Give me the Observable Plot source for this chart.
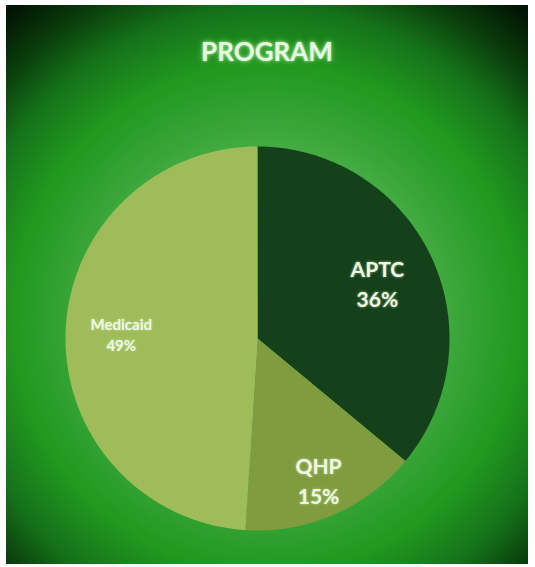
<!DOCTYPE html>
<html>
<head>
<meta charset="utf-8">
<script src="https://cdn.jsdelivr.net/npm/d3@7"></script>
<script src="https://cdn.jsdelivr.net/npm/@observablehq/plot@0.6"></script>
<style>
  html, body { margin: 0; padding: 0; background: #fff; }
  #wrap { position: relative; width: 535px; height: 567px; background: #fff; overflow: hidden; }
  #box {
    position: absolute; left: 6px; top: 5px; width: 522px; height: 559px;
    background: radial-gradient(circle 400px at 50% 56%, #8fcf80 0px, #5cb856 120px, #38a538 195px, #21981f 255px, #15721a 310px, #0a3d0b 355px, #021404 400px);
  }
  #title {
    position: absolute; left: 0; top: 31px; width: 522px; text-align: center;
    font-family: Lato, "Open Sans", sans-serif; font-weight: bold; font-size: 26px; line-height: 30px;
    color: #e6f7e2; text-shadow: 0 0 3px #a8e89a, 0 0 6px #6ccf60;
  }
  #chart { position: absolute; left: 51px; top: 133px; }
  #chart svg text { text-shadow: 0 0 3px rgba(230,255,200,0.6); }
</style>
</head>
<body>
<div id="wrap">
  <div id="box">
    <div id="title">PROGRAM</div>
    <div id="chart"></div>
  </div>
</div>
<script>
// ---- data ----
const categories = ["APTC", "QHP", "Medicaid"];
const shares = [36, 15, 49];
const colors = ["#14401a", "#7f9c3f", "#9ebd5a"];
// label placement (fraction of radius) per slice
const labelRadius = [0.69, 0.80, 0.71];

// ---- build slices ----
const arcs = d3.pie().sort(null).value(d => d)(shares);
const features = arcs.map((a, i) => {
  const n = Math.max(8, Math.ceil((a.endAngle - a.startAngle) / (Math.PI / 180)));
  const ring = [[0, 0]];
  for (let k = 0; k <= n; k++) {
    const t = a.startAngle + (a.endAngle - a.startAngle) * k / n;
    ring.push([Math.sin(t), Math.cos(t)]);
  }
  ring.push([0, 0]);
  return {type: "Feature", properties: {category: categories[i]}, geometry: {type: "Polygon", coordinates: [ring]}};
});
const labels = arcs.map((a, i) => {
  const m = (a.startAngle + a.endAngle) / 2;
  return {category: categories[i], share: shares[i], x: labelRadius[i] * Math.sin(m), y: labelRadius[i] * Math.cos(m)};
});

const plot = Plot.plot({
  width: 400,
  height: 400,
  margin: 0,
  style: {background: "transparent", overflow: "visible"},
  projection: ({width, height}) => d3.geoIdentity().reflectY(true)
    .fitExtent([[8, 8], [width - 8, height - 8]], {type: "MultiPoint", coordinates: [[-1, -1], [1, 1]]}),
  color: {domain: categories, range: colors},
  marks: [
    Plot.geo(features, {fill: d => d.properties.category}),
    Plot.text(labels.filter(d => d.category !== "Medicaid"), {
      x: "x", y: "y", text: d => `${d.category}\n${d.share}%`,
      fontSize: 21, fontWeight: "bold", fontFamily: "Lato, 'Open Sans', sans-serif",
      lineHeight: 1.45, fill: "#eef8e4"
    }),
    Plot.text(labels.filter(d => d.category === "Medicaid"), {
      x: "x", y: "y", text: d => `${d.category}\n${d.share}%`,
      fontSize: 15, fontWeight: "bold", fontFamily: "Lato, 'Open Sans', sans-serif",
      lineHeight: 1.4, fill: "#eef8e4", style: "letter-spacing: 0.6px"
    })
  ]
});
document.getElementById("chart").appendChild(plot);
</script>
</body>
</html>
